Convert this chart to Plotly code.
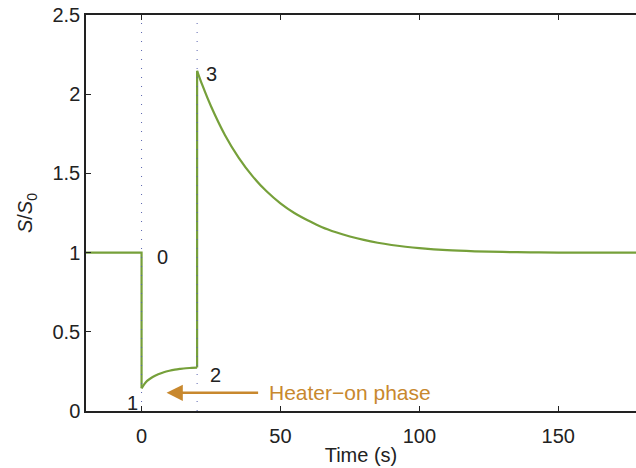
import plotly.graph_objects as go

# Time (s) and normalised signal S/S0
t_pre = [-20, 0, 0]
s_pre = [1.0, 1.0, 0.143]

t_heat = [0, 1, 2, 4, 6, 8, 10, 12, 14, 16, 18, 20]
s_heat = [0.143, 0.170, 0.190, 0.215, 0.232, 0.245, 0.254, 0.261, 0.266, 0.270, 0.272, 0.274]

t_jump = [20, 20]
s_jump = [0.274, 2.148]

t_post = [20, 22, 25, 30, 35, 40, 45, 50, 55, 60, 65, 70, 75, 80, 85, 90, 95,
          100, 110, 120, 130, 140, 150, 160, 178]
s_post = [2.148, 2.052, 1.924, 1.743, 1.598, 1.481, 1.387, 1.311, 1.250, 1.202,
          1.160, 1.128, 1.102, 1.080, 1.062, 1.048, 1.037, 1.028, 1.015, 1.008, 1.004,
          1.002, 1.000, 1.000, 1.000]

marker_times = [0, 20]
y_range = [0, 2.5]
x_ticks = [0, 50, 100, 150]
y_ticks = [0, 0.5, 1, 1.5, 2, 2.5]
y_tick_text = ["0", "0.5", "1", "1.5", "2", "2.5"]

point_labels = ["0", "1", "2", "3"]
point_x = [5.0, -6.0, 24.0, 22.3]
point_y = [0.97, 0.05, 0.23, 2.13]

green = "rgb(118,160,58)"
orange = "rgb(200,136,46)"
ink = "#222222"
font = "Liberation Sans, Arial, Helvetica, sans-serif"
FS = 20

fig = go.Figure()
segments = [(t_pre, s_pre, "linear"), (t_heat, s_heat, "spline"),
            (t_jump, s_jump, "linear"), (t_post, s_post, "spline")]
for xs, ys, shape in segments:
    fig.add_trace(go.Scatter(x=xs, y=ys, mode="lines",
                             line=dict(color=green, width=2.2, shape=shape),
                             showlegend=False, hoverinfo="skip"))
for tm in marker_times:
    fig.add_trace(go.Scatter(x=[tm, tm], y=y_range, mode="lines",
                             line=dict(color="rgb(90,100,175)", width=1, dash="1px,8px"),
                             showlegend=False, hoverinfo="skip"))

for lab, px, py in zip(point_labels, point_x, point_y):
    fig.add_annotation(x=px, y=py, text=lab, showarrow=False, xanchor="left",
                       yanchor="middle", font=dict(size=FS, color=ink, family=font))

# Heater-on arrow and label
fig.add_annotation(x=9.0, y=0.115, ax=42.5, ay=0.115, axref="x", ayref="y",
                   xref="x", yref="y", text="", showarrow=True,
                   arrowhead=2, arrowsize=1.3, arrowwidth=2.5, arrowcolor=orange)
fig.add_annotation(x=45.0, y=0.115, text="Heater\u2212on phase", showarrow=False,
                   xanchor="left", yanchor="middle",
                   font=dict(size=21, color=orange, family=font))

fig.update_layout(
    width=636, height=468,
    margin=dict(l=86, r=0, t=15, b=57),
    paper_bgcolor="white", plot_bgcolor="white",
    font=dict(family=font, size=FS, color=ink),
    xaxis=dict(range=[-20, 178], tickvals=x_ticks, ticks="inside", ticklen=5,
               tickcolor=ink, showline=True, linecolor=ink, linewidth=1.5,
               mirror="ticks", showgrid=False, zeroline=False,
               ticklabelstandoff=6,
               title=dict(text="Time (s)", standoff=2, font=dict(size=FS)),
               tickfont=dict(size=FS)),
    yaxis=dict(range=y_range, tickvals=y_ticks, ticktext=y_tick_text, ticks="inside",
               ticklen=5, tickcolor=ink, showline=True, linecolor=ink, linewidth=1.5,
               showgrid=False, zeroline=False,
               title=dict(text="<i>S</i>/<i>S</i><sub>0</sub>", standoff=14,
                          font=dict(size=FS)),
               tickfont=dict(size=FS)),
)

fig.write_html("out.html")
